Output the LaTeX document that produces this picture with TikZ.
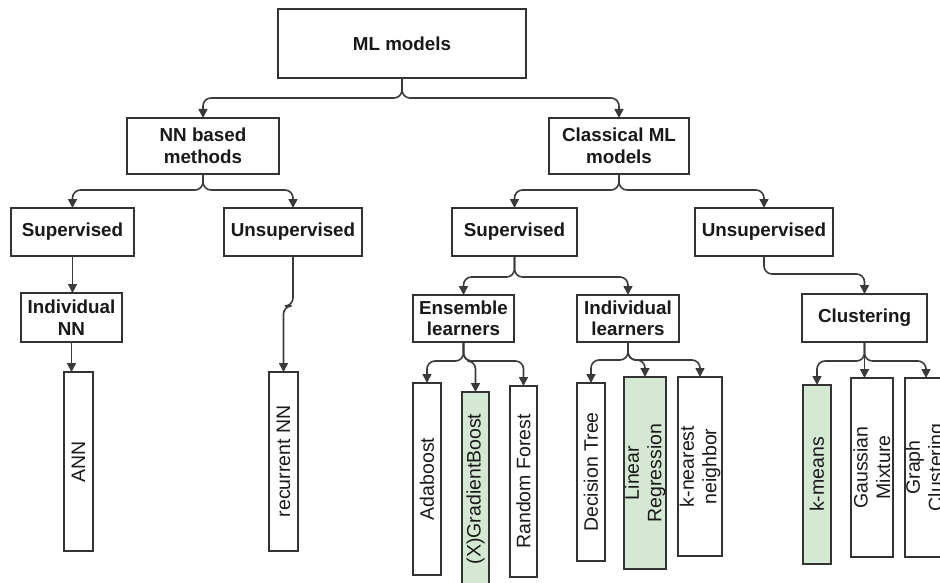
\documentclass[tikz,border=0pt]{standalone}
\usepackage{fontspec}
\setmainfont{Liberation Sans}
\usetikzlibrary{arrows.meta}

\definecolor{edgegray}{HTML}{333333}
\definecolor{linegray}{HTML}{3A3A3A}
\definecolor{leafgreen}{HTML}{D5E8D4}

\tikzset{
  box/.style={draw=edgegray, line width=2.3pt, fill=white, inner sep=0pt, outer sep=0pt,
    align=center, text=black!90, font=\fontsize{18.8}{21.5}\selectfont\bfseries},
  leafbox/.style={draw=edgegray, line width=2.3pt, fill=white, inner sep=0pt, outer sep=0pt},
  greenbox/.style={leafbox, fill=leafgreen},
  leaftext/.style={rotate=90, align=center, inner sep=0pt, text=black!90,
    font=\fontsize{19.5}{22.5}\selectfont},
  conn/.style={draw=linegray, line width=1.6pt, rounded corners=8pt,
    -{Triangle[length=9pt,width=9pt]}},
}

\begin{document}
\begin{tikzpicture}[x=1pt, y=-1pt]
\useasboundingbox (0,0) rectangle (940,583);
\clip (0,0) rectangle (940,583);

% ---- category boxes ----
\node[box, minimum width=248, minimum height=69] (ml)    at (402,43.5) {ML models};
\node[box, minimum width=152, minimum height=56] (nn)    at (203,146)  {NN based\\methods};
\node[box, minimum width=140, minimum height=56] (cls)   at (619,146)  {Classical ML\\models};
\node[box, minimum width=123, minimum height=48] (supl)  at (72.5,232) {Supervised};
\node[box, minimum width=138, minimum height=48] (unsl)  at (293,232)  {Unsupervised};
\node[box, minimum width=125, minimum height=48] (supm)  at (514.5,232){Supervised};
\node[box, minimum width=138, minimum height=48] (unsr)  at (764,232)  {Unsupervised};
\node[box, minimum width=101, minimum height=49] (indnn) at (71.5,317.5){Individual\\NN};
\node[box, minimum width=101, minimum height=47] (ens)   at (463.5,318.5){Ensemble\\learners};
\node[box, minimum width=102, minimum height=47] (indl)  at (628,318.5) {Individual\\learners};
\node[box, minimum width=125, minimum height=48] (clu)   at (864.5,318) {Clustering};

% ---- leaf models (vertical boxes) ----
\node[leafbox,  minimum width=29, minimum height=179, label={[leaftext]center:ANN}] (ann) at (78.5,461.5) {};
\node[leafbox,  minimum width=29, minimum height=179, label={[leaftext]center:recurrent NN}] (rnn) at (283.5,461.5) {};
\node[leafbox,  minimum width=28, minimum height=192, label={[leaftext]center:Adaboost}] (ada) at (427,479) {};
\node[greenbox, minimum width=27, minimum height=194, label={[leaftext]center:(X)GradientBoost}] (gb) at (475.5,489) {};
\node[leafbox,  minimum width=27, minimum height=191, label={[leaftext]center:Random Forest}] (rf) at (523.5,481.5) {};
\node[leafbox,  minimum width=28, minimum height=178, label={[leaftext]center:Decision Tree}] (dt) at (591,472) {};
\node[greenbox, minimum width=42, minimum height=192, label={[leaftext]center:Linear\\Regression}] (lr) at (645,473) {};
\node[leafbox,  minimum width=44, minimum height=179, label={[leaftext]center:k-nearest\\neighbor}] (knn) at (700,466.5) {};
\node[greenbox, minimum width=28, minimum height=179, label={[leaftext]center:k-means}] (km) at (817,474.5) {};
\node[leafbox,  minimum width=42, minimum height=179, label={[leaftext]center:Gaussian\\Mixture}] (gm) at (872,467.5) {};
\node[leafbox,  minimum width=42, minimum height=179, label={[leaftext]center:Graph\\Clustering}] (gc) at (926,467.5) {};

% ---- connectors ----
\draw[conn] (ml.south) -- ++(0,20) -| (nn.north);
\draw[conn] (ml.south) -- ++(0,20) -| (cls.north);

\draw[conn] (nn.south) -- ++(0,16) -| (supl.north);
\draw[conn] (nn.south) -- ++(0,16) -| (unsl.north);
\draw[conn] (cls.south) -- ++(0,16) -| (supm.north);
\draw[conn] (cls.south) -- ++(0,16) -| (unsr.north);

\draw[conn] (supl.south) -- (supl.south |- indnn.north);
\draw[conn] (indnn.south) -- (indnn.south |- ann.north);
\draw[conn] (unsl.south) -- ++(0,50) -| (rnn.north);

\draw[conn] (supm.south) -- ++(0,21) -| (ens.north);
\draw[conn] (supm.south) -- ++(0,21) -| (indl.north);
\draw[conn] (unsr.south) -- ++(0,18) -| (clu.north);

\draw[conn] (ens.south) -- ++(0,19) -| (ada.north);
\draw[conn] (ens.south) -- ++(0,19) -| (gb.north);
\draw[conn] (ens.south) -- ++(0,19) -| (rf.north);

\draw[conn] (indl.south) -- ++(0,18) -| (dt.north);
\draw[conn] (indl.south) -- ++(0,18) -| (lr.north);
\draw[conn] (indl.south) -- ++(0,18) -| (knn.north);

\draw[conn] (clu.south) -- ++(0,19) -| (km.north);
\draw[conn] (clu.south) -- (clu.south |- gm.north);
\draw[conn] (clu.south) -- ++(0,19) -| (gc.north);
\end{tikzpicture}
\end{document}
